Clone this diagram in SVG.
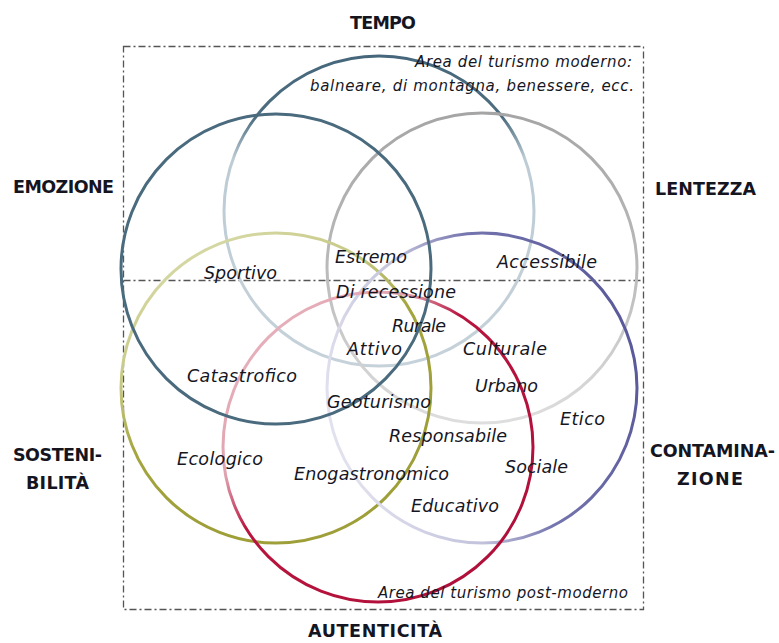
<svg xmlns="http://www.w3.org/2000/svg" width="779" height="643" viewBox="0 0 779 643">
<defs>
<style>
.frame{fill:none;stroke:#555;stroke-width:1.3;stroke-dasharray:7 3 2 3}
.c{fill:none;stroke-width:3}
.big{font-family:"DejaVu Sans",sans-serif;font-weight:bold;font-size:17.5px;fill:#15151f}
.lab{font-family:"DejaVu Sans",sans-serif;font-style:italic;font-size:17.5px;fill:#16161f}
.sm{font-family:"DejaVu Sans",sans-serif;font-style:italic;font-size:15px;fill:#16161f}
</style>
<linearGradient id="gTop" gradientUnits="userSpaceOnUse" x1="0" y1="56" x2="0" y2="366">
<stop offset="0" stop-color="#46677b"/><stop offset="0.2" stop-color="#4d6d80"/><stop offset="0.33" stop-color="#bccbd4"/><stop offset="1" stop-color="#c6d2da"/>
</linearGradient>
<linearGradient id="gGray" gradientUnits="userSpaceOnUse" x1="0" y1="113" x2="0" y2="423">
<stop offset="0" stop-color="#a5a5a5"/><stop offset="0.5" stop-color="#bababa"/><stop offset="1" stop-color="#dedede"/>
</linearGradient>
<linearGradient id="gYel" x1="0.2" y1="0" x2="0.6" y2="0.75">
<stop offset="0" stop-color="#d9dcab"/><stop offset="0.4" stop-color="#c6c884"/><stop offset="0.65" stop-color="#a4a53e"/><stop offset="1" stop-color="#9e9f38"/>
</linearGradient>
<linearGradient id="gRed" x1="0" y1="0" x2="1" y2="1">
<stop offset="0" stop-color="#ebb9c3"/><stop offset="0.3" stop-color="#e0a3b0"/><stop offset="0.42" stop-color="#b8143e"/><stop offset="1" stop-color="#ad0f38"/>
</linearGradient>
<linearGradient id="gPur" x1="0" y1="0.6" x2="1" y2="0.3">
<stop offset="0" stop-color="#e2e2ef"/><stop offset="0.35" stop-color="#c2c2dc"/><stop offset="0.58" stop-color="#7474ae"/><stop offset="1" stop-color="#585899"/>
</linearGradient>
</defs>
<rect width="779" height="643" fill="#fff"/>
<g id="frame">
<rect class="frame" x="123.5" y="46.5" width="520" height="563"/>
<line class="frame" x1="123.5" y1="280.5" x2="643.5" y2="280.5"/>
</g>
<g id="circles">
<g id="c-tempo"><circle class="c" cx="379" cy="211" r="155" stroke="url(#gTop)"/></g>
<g id="c-lentezza"><circle class="c" cx="482" cy="268" r="155" stroke="url(#gGray)"/></g>
<g id="c-sostenibilita"><circle class="c" cx="276" cy="388" r="155" stroke="url(#gYel)"/></g>
<g id="c-contaminazione"><circle class="c" cx="482" cy="388" r="155" stroke="url(#gPur)"/></g>
<g id="c-autenticita"><circle class="c" cx="378" cy="447" r="155" stroke="url(#gRed)"/></g>
<g id="c-emozione"><circle class="c" cx="276" cy="269" r="155" stroke="#4a6a7e"/></g>
</g>
<g id="axis-labels">
<text class="big" x="350" y="29" textLength="66">TEMPO</text>
<text class="big" x="13" y="193" textLength="101">EMOZIONE</text>
<text class="big" x="655" y="195" textLength="101">LENTEZZA</text>
<text class="big" x="13" y="461" textLength="89">SOSTENI-</text>
<text class="big" x="26" y="489" textLength="63">BILITÀ</text>
<text class="big" x="650" y="457" textLength="125">CONTAMINA-</text>
<text class="big" x="677" y="485" textLength="66">ZIONE</text>
<text class="big" x="308" y="637" textLength="134">AUTENTICITÀ</text>
</g>
<g id="area-labels">
<text class="sm" x="415" y="67" textLength="217">Area del turismo moderno:</text>
<text class="sm" x="310" y="91" textLength="324">balneare, di montagna, benessere,  ecc.</text>
<text class="sm" x="378" y="598" textLength="250">Area del turismo post-moderno</text>
</g>
<g id="types">
<text class="lab" x="204" y="279" textLength="73">Sportivo</text>
<text class="lab" x="335" y="263" textLength="72">Estremo</text>
<text class="lab" x="497" y="268" textLength="100">Accessibile</text>
<text class="lab" x="336" y="298" textLength="120">Di recessione</text>
<text class="lab" x="392" y="332" textLength="54">Rurale</text>
<text class="lab" x="347" y="355" textLength="55">Attivo</text>
<text class="lab" x="463" y="355" textLength="84">Culturale</text>
<text class="lab" x="187" y="382" textLength="110">Catastrofico</text>
<text class="lab" x="475" y="392" textLength="63">Urbano</text>
<text class="lab" x="327" y="408" textLength="104">Geoturismo</text>
<text class="lab" x="560" y="425" textLength="45">Etico</text>
<text class="lab" x="389" y="442" textLength="118">Responsabile</text>
<text class="lab" x="177" y="465" textLength="86">Ecologico</text>
<text class="lab" x="505" y="473" textLength="63">Sociale</text>
<text class="lab" x="294" y="480" textLength="155">Enogastronomico</text>
<text class="lab" x="411" y="512" textLength="88">Educativo</text>
</g>
</svg>
